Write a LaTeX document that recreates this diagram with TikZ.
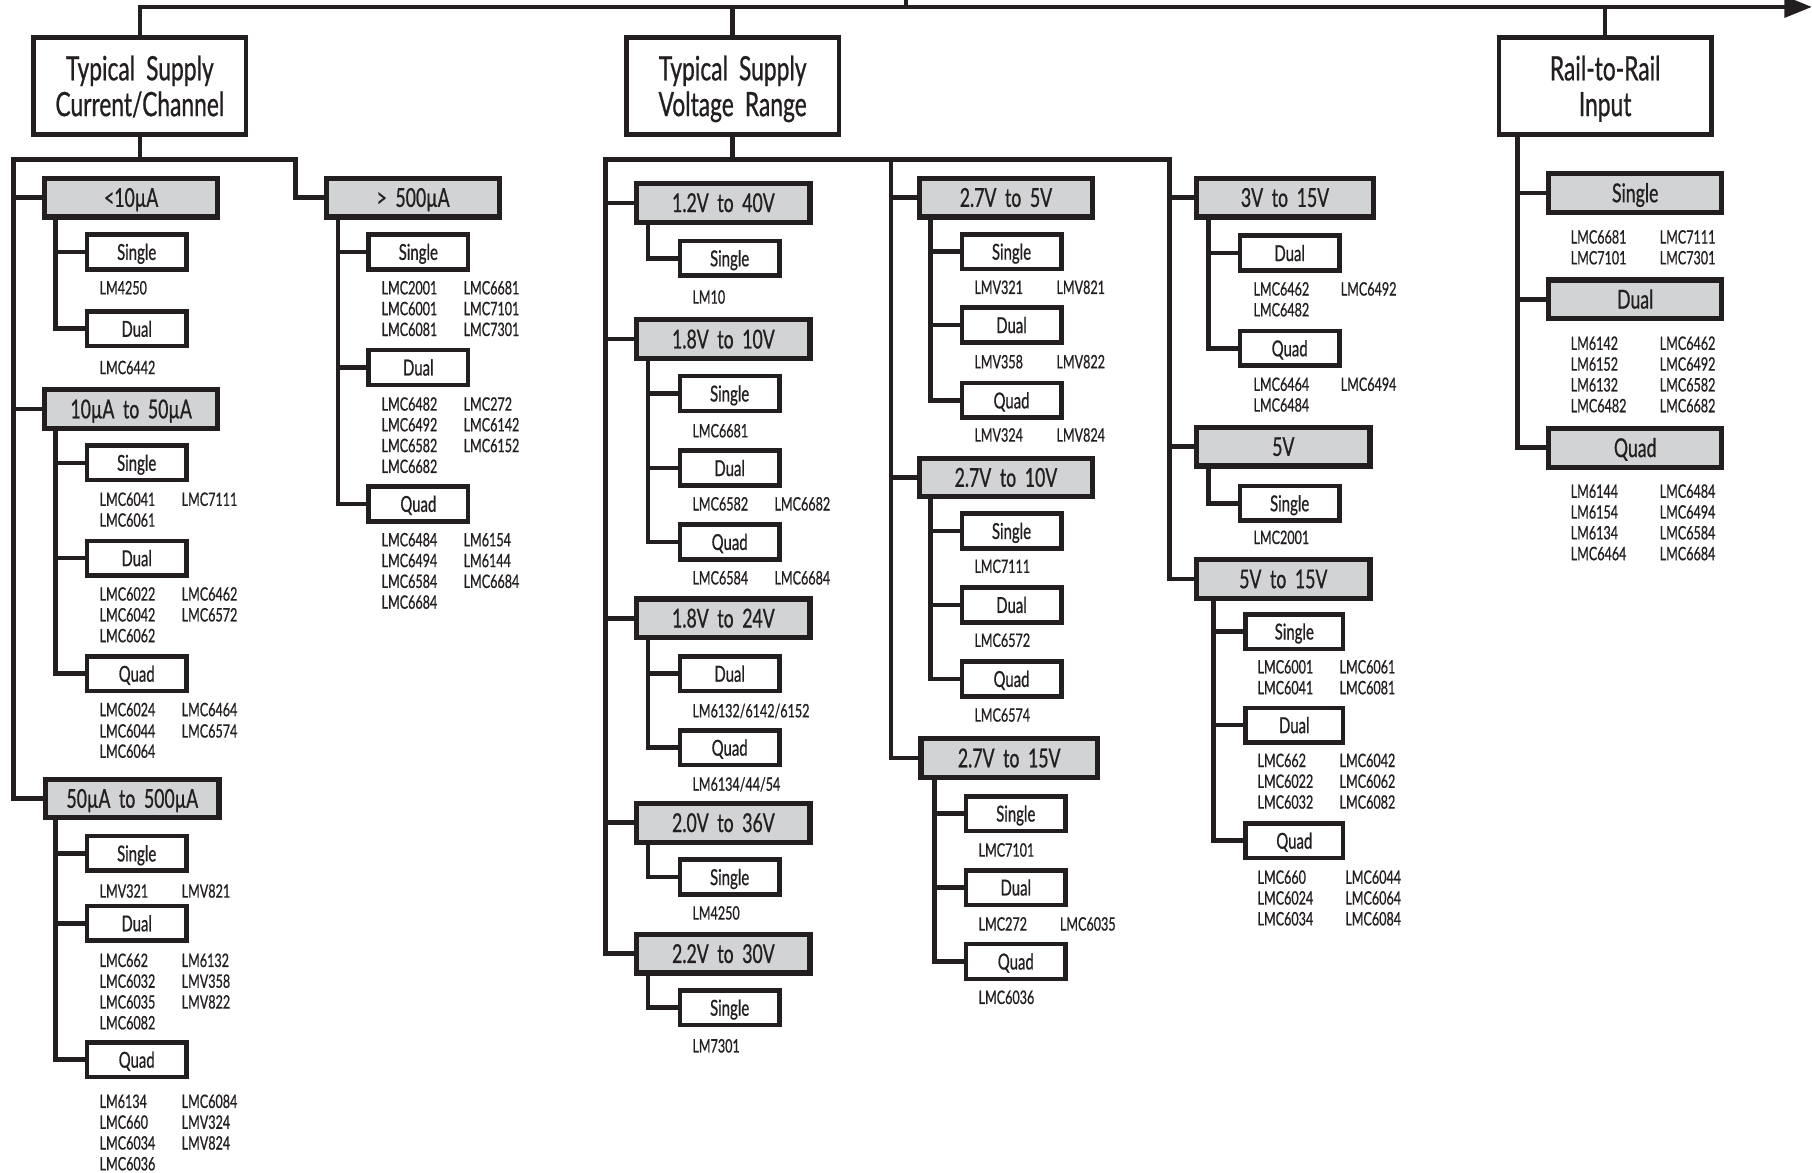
\documentclass[tikz,border=0pt]{standalone}
\usepackage{fontspec}
\setmainfont{Lato}[FakeStretch=0.68,WordSpace=1.9,FakeBold=0.7]
\usetikzlibrary{arrows.meta}
\definecolor{ink}{HTML}{231F20}
\definecolor{boxgray}{HTML}{D1D3D4}
\newcommand\fpart{\fontsize{16pt}{18pt}\selectfont}
\newcommand\flab{\fontsize{19pt}{21pt}\selectfont}
\newcommand\fgray{\fontsize{22.5pt}{24pt}\selectfont}
\newcommand\ftop{\fontsize{29pt}{31pt}\selectfont}
\newcounter{partno}
\newcommand\partlbl[3]{\stepcounter{partno}\node[part] (p\arabic{partno}) at (#1,#2) {#3};}
\newcommand\partrow[5]{\partlbl{#1}{#3}{#4}\partlbl{#2}{#3}{#5}}
\tikzset{
 wire/.style={draw=ink, line width=4pt},
 topbox/.style={draw=ink, line width=4pt, fill=white, minimum width=184pt, minimum height=84pt, inner sep=0pt, align=center, font=\ftop, text=ink, text depth=0pt},
 gbox/.style={draw=ink, line width=4.5pt, fill=boxgray, minimum width=150pt, minimum height=33.5pt, inner sep=0pt, font=\fgray, text=ink, text height=16pt, text depth=0pt},
 sbox/.style={draw=ink, line width=4pt, fill=white, minimum width=86pt, minimum height=30pt, inner sep=0pt, font=\flab, text=ink, text height=13.8pt, text depth=0pt},
 part/.style={anchor=west, inner sep=0pt, font=\fpart, text=ink, text height=11.5pt, text depth=0pt},
}
\begin{document}
\begin{tikzpicture}[x=1pt,y=-1pt,line join=miter]
\useasboundingbox (0,0) rectangle (1568,1015);
% ---------- top level ----------
\node[topbox] (T1) at (121,74.3) {Typical Supply\\Current/Channel};
\node[topbox] (T2) at (634,74.3) {Typical Supply\\Voltage Range};
\node[topbox] (T3) at (1389,74.3) {Rail-to-Rail\\Input};
\coordinate (tip) at (1568,6);
\coordinate (tick) at (784,0);
% ---------- column 1 / 2 ----------
\node[gbox] (A1) at (113.5,171) {<10µA};
\node[sbox] (A1s) at (118.3,218) {Single};
\node[sbox] (A1d) at (118.3,284.5) {Dual};
\node[gbox] (A2) at (113.5,354) {10µA to 50µA};
\node[sbox] (A2s) at (118.3,400.5) {Single};
\node[sbox] (A2d) at (118.3,483) {Dual};
\node[sbox] (A2q) at (118.3,583) {Quad};
\node[gbox] (A3) at (114.5,691) {50µA to 500µA};
\node[sbox] (A3s) at (118.3,738.5) {Single};
\node[sbox] (A3d) at (118.3,799) {Dual};
\node[sbox] (A3q) at (118.3,917) {Quad};
\node[gbox] (A4) at (357.5,171) {> 500µA};
\node[sbox] (A4s) at (362,218) {Single};
\node[sbox] (A4d) at (362,318) {Dual};
\node[sbox] (A4q) at (362,436) {Quad};
% ---------- column 3 ----------
\node[gbox] (B1) at (626,175.5) {1.2V to 40V};
\node[sbox] (B1s) at (631.4,223.5) {Single};
\node[gbox] (B2) at (626,293.5) {1.8V to 10V};
\node[sbox] (B2s) at (631.4,340.5) {Single};
\node[sbox] (B2d) at (631.4,405) {Dual};
\node[sbox] (B2q) at (631.4,469) {Quad};
\node[gbox] (B3) at (626,535) {1.8V to 24V};
\node[sbox] (B3d) at (631.4,583) {Dual};
\node[sbox] (B3q) at (631.4,647) {Quad};
\node[gbox] (B4) at (626,712) {2.0V to 36V};
\node[sbox] (B4s) at (631.4,759) {Single};
\node[gbox] (B5) at (626,825.3) {2.2V to 30V};
\node[sbox] (B5s) at (631.4,872) {Single};
% ---------- column 4 ----------
\node[gbox] (C1) at (870.5,171) {2.7V to 5V};
\node[sbox] (C1s) at (875.3,217.8) {Single};
\node[sbox] (C1d) at (875.3,281.3) {Dual};
\node[sbox] (C1q) at (875.3,346.5) {Quad};
\node[gbox] (C2) at (870.5,413.2) {2.7V to 10V};
\node[sbox] (C2s) at (875.3,459.5) {Single};
\node[sbox] (C2d) at (875.3,523.5) {Dual};
\node[sbox] (C2q) at (875.3,587.5) {Quad};
\node[gbox,minimum width=152.5pt] (C3) at (873.3,656) {2.7V to 15V};
\node[sbox] (C3s) at (879,704) {Single};
\node[sbox] (C3d) at (879,768) {Dual};
\node[sbox] (C3q) at (879,832) {Quad};
% ---------- column 5 ----------
\node[gbox,minimum width=153.5pt] (D1) at (1112,171) {3V to 15V};
\node[sbox] (D1d) at (1116,219) {Dual};
\node[sbox] (D1q) at (1116,301.4) {Quad};
\node[gbox] (D2) at (1110.5,386.5) {5V};
\node[sbox] (D2s) at (1116,435.5) {Single};
\node[gbox] (D3) at (1110.5,501) {5V to 15V};
\node[sbox,minimum width=84pt] (D3s) at (1120,546.5) {Single};
\node[sbox,minimum width=84pt] (D3d) at (1120,627.5) {Dual};
\node[sbox,minimum width=84pt] (D3q) at (1120,727.5) {Quad};
% ---------- column 6 ----------
\node[gbox] (E1) at (1415,167) {Single};
\node[gbox] (E2) at (1415,259) {Dual};
\node[gbox] (E3) at (1415,387.5) {Quad};
% ---------- connectors ----------
\draw[wire,-{Triangle[length=24pt,width=18pt]}] (T1.north) |- (tip);
\draw[wire] (T2.north) -- (T2.north |- tip);
\draw[wire] (T3.north) -- (T3.north |- tip);
\draw[wire] (tick) -- (tick |- tip);
% hub 1
\coordinate (L1) at (11.6,138);
\coordinate (R1) at (255.6,138);
\draw[wire] (T1.south) -- (T1.south |- L1);
\draw[wire] (A3.west) -| (L1) -- (R1) |- (A4.west);
\draw[wire] (L1) |- (A1.west);
\draw[wire] (L1) |- (A2.west);
\coordinate (v1) at (48,0);
\coordinate (v2) at (292.4,0);
\draw[wire] (A1.south -| v1) |- (A1d.west);
\draw[wire] (A1.south -| v1) |- (A1s.west);
\draw[wire] (A2.south -| v1) |- (A2q.west);
\draw[wire] (A2.south -| v1) |- (A2s.west);
\draw[wire] (A2.south -| v1) |- (A2d.west);
\draw[wire] (A3.south -| v1) |- (A3q.west);
\draw[wire] (A3.south -| v1) |- (A3s.west);
\draw[wire] (A3.south -| v1) |- (A3d.west);
\draw[wire] (A4.south -| v2) |- (A4q.west);
\draw[wire] (A4.south -| v2) |- (A4s.west);
\draw[wire] (A4.south -| v2) |- (A4d.west);
% hub 2
\coordinate (L2) at (523.8,138);
\coordinate (M2) at (771,138);
\coordinate (R2) at (1012,138);
\draw[wire] (T2.south) -- (T2.south |- L2);
\draw[wire] (B5.west) -| (L2) -- (R2) |- (D3.west);
\draw[wire] (L2) |- (B1.west);
\draw[wire] (L2) |- (B2.west);
\draw[wire] (L2) |- (B3.west);
\draw[wire] (L2) |- (B4.west);
\draw[wire] (M2) |- (C3.west);
\draw[wire] (M2) |- (C1.west);
\draw[wire] (M2) |- (C2.west);
\draw[wire] (R2) |- (D1.west);
\draw[wire] (R2) |- (D2.west);
\coordinate (v3) at (560.7,0);
\draw[wire] (B1.south -| v3) |- (B1s.west);
\draw[wire] (B2.south -| v3) |- (B2q.west);
\draw[wire] (B2.south -| v3) |- (B2s.west);
\draw[wire] (B2.south -| v3) |- (B2d.west);
\draw[wire] (B3.south -| v3) |- (B3q.west);
\draw[wire] (B3.south -| v3) |- (B3d.west);
\draw[wire] (B4.south -| v3) |- (B4s.west);
\draw[wire] (B5.south -| v3) |- (B5s.west);
\coordinate (v4) at (805,0);
\coordinate (v4b) at (808.5,0);
\draw[wire] (C1.south -| v4) |- (C1q.west);
\draw[wire] (C1.south -| v4) |- (C1s.west);
\draw[wire] (C1.south -| v4) |- (C1d.west);
\draw[wire] (C2.south -| v4) |- (C2q.west);
\draw[wire] (C2.south -| v4) |- (C2s.west);
\draw[wire] (C2.south -| v4) |- (C2d.west);
\draw[wire] (C3.south -| v4b) |- (C3q.west);
\draw[wire] (C3.south -| v4b) |- (C3s.west);
\draw[wire] (C3.south -| v4b) |- (C3d.west);
\coordinate (v5) at (1046,0);
\coordinate (v5b) at (1050,0);
\draw[wire] (D1.south -| v5) |- (D1q.west);
\draw[wire] (D1.south -| v5) |- (D1d.west);
\draw[wire] (D2.south -| v5) |- (D2s.west);
\draw[wire] (D3.south -| v5b) |- (D3q.west);
\draw[wire] (D3.south -| v5b) |- (D3s.west);
\draw[wire] (D3.south -| v5b) |- (D3d.west);
% column 6
\coordinate (v6) at (1313,0);
\draw[wire] (T3.south -| v6) |- (E3.west);
\draw[wire] (T3.south -| v6) |- (E1.west);
\draw[wire] (T3.south -| v6) |- (E2.west);
% ---------- part numbers ----------
\partlbl{86}{249}{LM4250}
\partlbl{86}{318}{LMC6442}
\partrow{86}{157}{432}{LMC6041}{LMC7111}
\partlbl{86}{450}{LMC6061}
\partrow{86}{157}{514}{LMC6022}{LMC6462}
\partrow{86}{157}{532}{LMC6042}{LMC6572}
\partlbl{86}{550}{LMC6062}
\partrow{86}{157}{614}{LMC6024}{LMC6464}
\partrow{86}{157}{632.5}{LMC6044}{LMC6574}
\partlbl{86}{650}{LMC6064}
\partrow{86}{157}{771}{LMV321}{LMV821}
\partrow{86}{157}{831}{LMC662}{LM6132}
\partrow{86}{157}{849}{LMC6032}{LMV358}
\partrow{86}{157}{867}{LMC6035}{LMV822}
\partlbl{86}{885}{LMC6082}
\partrow{86}{157}{953}{LM6134}{LMC6084}
\partrow{86}{157}{971}{LMC660}{LMV324}
\partrow{86}{157}{989}{LMC6034}{LMV824}
\partlbl{86}{1007}{LMC6036}
%
\partrow{330}{401}{249}{LMC2001}{LMC6681}
\partrow{330}{401}{267}{LMC6001}{LMC7101}
\partrow{330}{401}{285}{LMC6081}{LMC7301}
\partrow{330}{401}{349.6}{LMC6482}{LMC272}
\partrow{330}{401}{367.5}{LMC6492}{LMC6142}
\partrow{330}{401}{385.5}{LMC6582}{LMC6152}
\partlbl{330}{403.5}{LMC6682}
\partrow{330}{401}{467}{LMC6484}{LM6154}
\partrow{330}{401}{485}{LMC6494}{LM6144}
\partrow{330}{401}{503}{LMC6584}{LMC6684}
\partlbl{330}{521}{LMC6684}
%
\partlbl{599}{257}{LM10}
\partlbl{599}{372.7}{LMC6681}
\partrow{599}{670}{436}{LMC6582}{LMC6682}
\partrow{599}{670}{500}{LMC6584}{LMC6684}
\partlbl{599}{615}{LM6132/6142/6152}
\partlbl{599}{678.5}{LM6134/44/54}
\partlbl{599}{790}{LM4250}
\partlbl{599}{905}{LM7301}
%
\partrow{843}{914}{248.6}{LMV321}{LMV821}
\partrow{843}{914}{313}{LMV358}{LMV822}
\partrow{843}{914}{376.4}{LMV324}{LMV824}
\partlbl{843}{490}{LMC7111}
\partlbl{843}{554}{LMC6572}
\partlbl{843}{618.7}{LMC6574}
\partlbl{846.6}{735.5}{LMC7101}
\partrow{846.6}{917}{799.5}{LMC272}{LMC6035}
\partlbl{846.6}{863}{LMC6036}
%
\partrow{1084.5}{1160}{250}{LMC6462}{LMC6492}
\partlbl{1084.5}{268}{LMC6482}
\partrow{1084.5}{1160}{332.5}{LMC6464}{LMC6494}
\partlbl{1084.5}{350.4}{LMC6484}
\partlbl{1084.5}{465}{LMC2001}
\partrow{1088}{1159}{577}{LMC6001}{LMC6061}
\partrow{1088}{1159}{595}{LMC6041}{LMC6081}
\partrow{1088}{1159}{658}{LMC662}{LMC6042}
\partrow{1088}{1159}{676}{LMC6022}{LMC6062}
\partrow{1088}{1159}{694}{LMC6032}{LMC6082}
\partrow{1088}{1164}{759}{LMC660}{LMC6044}
\partrow{1088}{1164}{777}{LMC6024}{LMC6064}
\partrow{1088}{1164}{795}{LMC6034}{LMC6084}
%
\partrow{1359}{1436}{205}{LMC6681}{LMC7111}
\partrow{1359}{1436}{223}{LMC7101}{LMC7301}
\partrow{1359}{1436}{297}{LM6142}{LMC6462}
\partrow{1359}{1436}{315}{LM6152}{LMC6492}
\partrow{1359}{1436}{333}{LM6132}{LMC6582}
\partrow{1359}{1436}{351}{LMC6482}{LMC6682}
\partrow{1359}{1436}{425}{LM6144}{LMC6484}
\partrow{1359}{1436}{443}{LM6154}{LMC6494}
\partrow{1359}{1436}{461}{LM6134}{LMC6584}
\partrow{1359}{1436}{479}{LMC6464}{LMC6684}
\end{tikzpicture}
\end{document}
